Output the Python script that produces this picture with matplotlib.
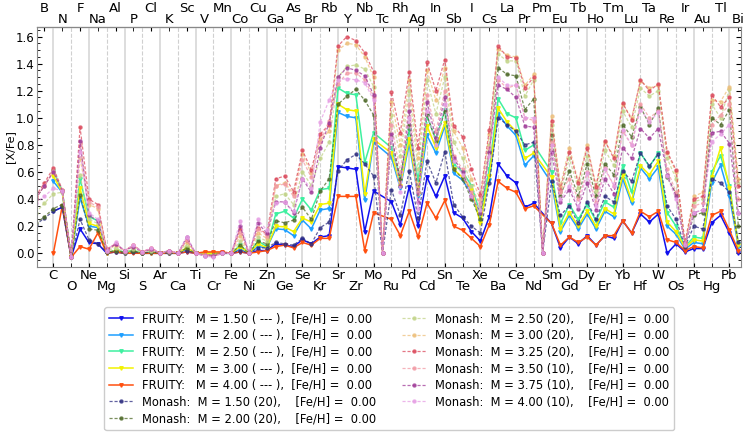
import numpy as np
import matplotlib.pyplot as plt
from matplotlib.ticker import MultipleLocator

nan = np.nan

# atomic numbers 4 (Be) .. 83 (Bi)
Z = np.arange(4, 84)
symbols = ['Be', 'B', 'C', 'N', 'O', 'F', 'Ne', 'Na', 'Mg', 'Al', 'Si', 'P', 'S', 'Cl', 'Ar',
           'K', 'Ca', 'Sc', 'Ti', 'V', 'Cr', 'Mn', 'Fe', 'Co', 'Ni', 'Cu', 'Zn', 'Ga', 'Ge',
           'As', 'Se', 'Br', 'Kr', 'Rb', 'Sr', 'Y', 'Zr', 'Nb', 'Mo', 'Tc', 'Ru', 'Rh', 'Pd',
           'Ag', 'Cd', 'In', 'Sn', 'Sb', 'Te', 'I', 'Xe', 'Cs', 'Ba', 'La', 'Ce', 'Pr', 'Nd',
           'Pm', 'Sm', 'Eu', 'Gd', 'Tb', 'Dy', 'Ho', 'Er', 'Tm', 'Yb', 'Lu', 'Hf', 'Ta', 'W',
           'Re', 'Os', 'Ir', 'Pt', 'Au', 'Hg', 'Tl', 'Pb', 'Bi']

# FRUITY models ([X/Fe]), Be..Bi
fruity_150 = [nan, nan, 0.31, 0.34, -0.03, 0.18, 0.08, 0.07, 0.0, 0.01, 0.0, 0.01, 0.0, 0.0, 0.0,
              0.0, 0.0, 0.01, 0.0, 0.0, 0.0, 0.0, 0.0, 0.01, 0.0, 0.02, 0.02, 0.07, 0.06,
              0.05, 0.10, 0.07, 0.12, 0.13, 0.64, 0.63, 0.62, 0.16, 0.46, nan, 0.38, 0.21, 0.49,
              0.20, 0.56, 0.42, 0.57, 0.30, 0.26, 0.16, 0.09, 0.27, 0.66, 0.57, 0.52, 0.34, 0.37,
              nan, 0.22, 0.04, 0.12, 0.07, 0.13, 0.06, 0.13, 0.11, 0.24, 0.15, 0.29, 0.23, 0.29,
              0.0, 0.07, 0.01, 0.035, 0.035, 0.225, 0.28, 0.15, 0.0]
fruity_200 = [nan, nan, 0.53, 0.45, -0.03, 0.41, 0.20, 0.19, 0.0, 0.02, 0.0, 0.01, 0.0, 0.0, 0.0,
              0.0, 0.0, 0.03, 0.0, 0.0, 0.0, 0.0, 0.0, 0.03, 0.0, 0.05, 0.04, 0.18, 0.175,
              0.13, 0.245, 0.18, 0.32, 0.33, 1.04, 1.01, 1.00, 0.39, 0.82, nan, 0.71, 0.48, 0.81,
              0.42, 0.87, 0.74, 0.94, 0.59, 0.54, 0.44, 0.24, 0.54, 1.03, 0.94, 0.87, 0.65, 0.72,
              nan, 0.52, 0.16, 0.28, 0.18, 0.29, 0.18, 0.31, 0.27, 0.55, 0.37, 0.63, 0.55, 0.635,
              0.20, 0.14, 0.03, 0.08, 0.07, 0.52, 0.65, 0.42, 0.05]
fruity_250 = [nan, nan, 0.61, 0.46, -0.03, 0.55, 0.27, 0.24, 0.0, 0.02, 0.01, 0.02, 0.0, 0.01, 0.0,
              0.01, 0.0, 0.04, 0.0, 0.0, 0.0, 0.0, 0.0, 0.06, 0.0, 0.09, 0.05, 0.29, 0.31,
              0.26, 0.40, 0.32, 0.47, 0.48, 1.22, 1.18, 1.17, 0.67, 0.89, nan, 0.78, 0.55, 0.91,
              0.54, 1.01, 0.84, 1.06, 0.66, 0.60, 0.50, 0.29, 0.62, 1.14, 1.03, 1.00, 0.76, 0.80,
              nan, 0.60, 0.22, 0.36, 0.25, 0.36, 0.24, 0.38, 0.34, 0.645, 0.45, 0.74, 0.64, 0.74,
              0.30, 0.20, 0.05, 0.12, 0.11, 0.60, 0.72, 0.50, 0.07]
fruity_300 = [nan, nan, 0.57, 0.45, -0.03, 0.48, 0.22, 0.20, 0.0, 0.02, 0.0, 0.01, 0.0, 0.0, 0.0,
              0.0, 0.0, 0.04, 0.0, 0.0, 0.0, 0.0, 0.0, 0.05, 0.0, 0.07, 0.04, 0.20, 0.195,
              0.16, 0.26, 0.23, 0.36, 0.37, 1.10, 1.06, 1.05, 0.44, 0.84, nan, 0.74, 0.50, 0.84,
              0.44, 0.94, 0.78, 0.96, 0.62, 0.56, 0.47, 0.22, 0.57, 1.07, 0.97, 0.90, 0.70, 0.74,
              nan, 0.56, 0.18, 0.30, 0.20, 0.31, 0.20, 0.33, 0.29, 0.58, 0.39, 0.645, 0.58, 0.68,
              0.23, 0.16, 0.04, 0.10, 0.09, 0.56, 0.78, 0.48, 0.06]
fruity_400 = [nan, nan, 0.0, 0.35, -0.03, 0.05, 0.03, 0.15, 0.0, 0.01, 0.0, 0.0, 0.0, 0.0, 0.0,
              0.0, 0.0, 0.01, 0.0, 0.01, 0.01, 0.01, 0.0, 0.01, 0.0, 0.01, 0.02, 0.05, 0.06,
              0.04, 0.08, 0.06, 0.11, 0.11, 0.42, 0.42, 0.42, 0.02, 0.30, nan, 0.25, 0.13, 0.31,
              0.12, 0.37, 0.26, 0.39, 0.20, 0.17, 0.11, 0.05, 0.21, 0.53, 0.48, 0.45, 0.33, 0.35,
              nan, 0.22, 0.06, 0.12, 0.08, 0.12, 0.06, 0.13, 0.13, 0.24, 0.15, 0.31, 0.27, 0.31,
              0.10, 0.08, 0.02, 0.05, 0.04, 0.28, 0.31, 0.17, 0.02]

# Monash models ([X/Fe]), Be..Bi
monash_150 = [0.21, 0.26, 0.31, 0.34, -0.03, 0.25, 0.10, 0.07, 0.01, 0.01, 0.0, 0.01, 0.0, 0.01, 0.0,
              0.0, 0.0, 0.02, 0.0, -0.01, -0.01, 0.0, 0.0, 0.02, 0.0, 0.04, 0.04, 0.08, 0.07,
              0.06, 0.11, 0.07, 0.19, 0.23, 0.61, 0.69, 0.73, 0.66, 0.57, 0.0, 0.47, 0.28, 0.61,
              0.26, 0.68, 0.52, 0.75, 0.36, 0.27, 0.20, 0.15, 0.52, 1.00, 0.95, 0.90, 0.80, 0.82,
              0.0, 0.53, 0.28, 0.35, 0.22, 0.38, 0.25, 0.42, 0.38, 0.61, 0.53, 0.74, 0.645, 0.73,
              0.35, 0.25, 0.05, 0.20, 0.18, 0.55, 0.52, 0.45, 0.08]
monash_200 = [0.22, 0.27, 0.33, 0.36, -0.03, 0.43, 0.18, 0.17, 0.01, 0.02, 0.01, 0.02, 0.0, 0.01, 0.0,
              0.01, 0.0, 0.04, 0.0, -0.01, -0.01, 0.0, 0.0, 0.06, 0.0, 0.09, 0.07, 0.24, 0.225,
              0.245, 0.34, 0.25, 0.46, 0.55, 1.10, 1.16, 1.21, 1.13, 1.02, 0.0, 0.86, 0.55, 0.95,
              0.45, 1.02, 0.83, 1.05, 0.62, 0.55, 0.40, 0.25, 0.75, 1.37, 1.32, 1.31, 1.06, 1.14,
              0.0, 0.87, 0.42, 0.61, 0.42, 0.66, 0.42, 0.66, 0.58, 0.95, 0.86, 1.08, 0.95, 1.07,
              0.56, 0.44, 0.06, 0.28, 0.30, 1.00, 0.95, 1.06, 0.20]
monash_250 = [0.30, 0.37, 0.44, 0.45, -0.03, 0.58, 0.25, 0.22, 0.02, 0.04, 0.01, 0.03, 0.01, 0.02, 0.0,
              0.01, 0.0, 0.06, 0.0, -0.01, -0.01, 0.0, 0.0, 0.09, 0.0, 0.12, 0.09, 0.42, 0.44,
              0.36, 0.60, 0.50, 0.70, 0.82, 1.30, 1.38, 1.39, 1.36, 1.23, 0.0, 1.02, 0.72, 1.20,
              0.62, 1.28, 1.03, 1.30, 0.82, 0.70, 0.50, 0.35, 0.80, 1.47, 1.42, 1.42, 1.16, 1.28,
              0.0, 0.95, 0.45, 0.70, 0.48, 0.72, 0.46, 0.76, 0.65, 1.05, 0.93, 1.22, 1.16, 1.20,
              0.70, 0.55, 0.07, 0.38, 0.40, 1.10, 1.00, 1.21, 0.52]
monash_300 = [0.40, 0.50, 0.60, 0.46, -0.03, 0.70, 0.36, 0.33, 0.02, 0.06, 0.02, 0.05, 0.01, 0.03, 0.0,
              0.02, 0.0, 0.08, 0.0, -0.01, -0.02, 0.0, 0.0, 0.13, 0.0, 0.15, 0.11, 0.50, 0.52,
              0.44, 0.73, 0.59, 0.84, 0.90, 1.50, 1.55, 1.54, 1.45, 1.30, 0.0, 1.12, 0.80, 1.28,
              0.70, 1.35, 1.13, 1.37, 0.90, 0.78, 0.55, 0.40, 0.88, 1.51, 1.46, 1.45, 1.24, 1.32,
              0.0, 1.01, 0.50, 0.78, 0.53, 0.80, 0.50, 0.82, 0.72, 1.10, 1.00, 1.27, 1.22, 1.24,
              0.74, 0.60, 0.08, 0.42, 0.45, 1.13, 1.12, 1.23, 0.55]
monash_325 = [0.42, 0.52, 0.63, 0.47, -0.03, 0.93, 0.40, 0.36, 0.03, 0.07, 0.02, 0.06, 0.01, 0.04, 0.0,
              0.02, 0.0, 0.10, 0.0, -0.01, -0.02, 0.01, 0.0, 0.18, 0.0, 0.19, 0.14, 0.55, 0.57,
              0.455, 0.76, 0.615, 0.88, 0.95, 1.53, 1.60, 1.57, 1.48, 1.34, 0.0, 1.19, 0.89, 1.34,
              0.78, 1.41, 1.20, 1.43, 0.94, 0.86, 0.62, 0.43, 0.91, 1.53, 1.45, 1.44, 1.22, 1.30,
              0.0, 0.98, 0.47, 0.75, 0.52, 0.78, 0.49, 0.83, 0.70, 1.11, 0.985, 1.28, 1.20, 1.25,
              0.75, 0.615, 0.08, 0.40, 0.42, 1.17, 1.08, 1.15, 0.50]
monash_350 = [0.41, 0.50, 0.61, 0.47, -0.03, 0.80, 0.38, 0.34, 0.03, 0.07, 0.02, 0.06, 0.01, 0.03, 0.0,
              0.02, 0.0, 0.10, 0.0, -0.01, -0.02, 0.0, 0.0, 0.16, 0.0, 0.18, 0.13, 0.50, 0.51,
              0.42, 0.69, 0.56, 0.82, 0.98, 1.25, 1.33, 1.33, 1.28, 1.15, 0.0, 0.95, 0.60, 1.10,
              0.45, 1.17, 0.90, 1.20, 0.72, 0.62, 0.45, 0.37, 0.78, 1.28, 1.22, 1.24, 1.00, 0.98,
              0.0, 0.82, 0.45, 0.55, 0.40, 0.60, 0.38, 0.63, 0.50, 0.90, 0.80, 1.10, 1.00, 1.05,
              0.62, 0.45, 0.07, 0.35, 0.37, 0.95, 1.02, 1.10, 0.40]
monash_375 = [0.40, 0.50, 0.60, 0.46, -0.03, 0.83, 0.28, 0.24, 0.02, 0.07, 0.02, 0.05, 0.01, 0.03, 0.0,
              0.02, 0.0, 0.12, 0.0, -0.02, -0.02, 0.0, 0.0, 0.20, 0.0, 0.22, 0.15, 0.38, 0.38,
              0.30, 0.55, 0.45, 0.78, 0.96, 1.30, 1.37, 1.35, 1.31, 1.17, 0.0, 0.88, 0.50, 1.05,
              0.38, 1.12, 0.85, 1.15, 0.70, 0.60, 0.42, 0.30, 0.75, 1.24, 1.21, 1.15, 0.94, 0.93,
              0.0, 0.75, 0.38, 0.47, 0.33, 0.52, 0.32, 0.55, 0.44, 0.78, 0.70, 0.92, 0.85, 0.92,
              0.58, 0.42, 0.06, 0.30, 0.32, 0.89, 0.90, 0.81, 0.30]
monash_400 = [0.37, 0.42, 0.48, 0.46, -0.03, 0.75, 0.30, 0.25, 0.02, 0.08, 0.02, 0.06, 0.01, 0.04, 0.0,
              0.02, 0.0, 0.12, 0.0, -0.02, -0.03, 0.0, 0.0, 0.24, 0.0, 0.25, 0.17, 0.37, 0.38,
              0.31, 0.55, 0.48, 0.97, 1.13, 1.28, 1.29, 1.28, 1.26, 1.13, 0.0, 0.85, 0.45, 1.00,
              0.33, 1.05, 0.80, 1.10, 0.68, 0.58, 0.42, 0.32, 0.72, 1.30, 1.24, 1.24, 1.00, 1.00,
              0.0, 0.80, 0.40, 0.50, 0.35, 0.59, 0.35, 0.62, 0.50, 0.91, 0.80, 1.06, 0.97, 1.04,
              0.57, 0.40, 0.06, 0.30, 0.32, 0.82, 0.88, 0.95, 0.30]

fruity = [
    (fruity_150, '1.50', '#1010ee'),
    (fruity_200, '2.00', '#1e9fff'),
    (fruity_250, '2.50', '#3ef0a0'),
    (fruity_300, '3.00', '#f2f200'),
    (fruity_400, '4.00', '#ff5010'),
]
monash = [
    (monash_150, '1.50', '20', '#2e2e80'),
    (monash_200, '2.00', '20', '#4f6a2a'),
    (monash_250, '2.50', '20', '#c2d488'),
    (monash_300, '3.00', '20', '#edbf7a'),
    (monash_325, '3.25', '20', '#dc4a5c'),
    (monash_350, '3.50', '10', '#f29aa4'),
    (monash_375, '3.75', '10', '#a03c98'),
    (monash_400, '4.00', '10', '#e69ee4'),
]

fig, ax = plt.subplots(figsize=(7.47, 4.36), dpi=100)
fig.subplots_adjust(left=0.05, right=0.992, top=0.938, bottom=0.388)

for vals, m, col in fruity:
    y = np.array(vals, dtype=float)
    ok = ~np.isnan(y)
    ax.plot(Z[ok], y[ok], '-', color=col, lw=1.1, marker='v', ms=2.5,
            label='FRUITY:   M = %s ( --- ),  [Fe/H] =  0.00' % m)

for vals, m, n, col in monash:
    y = np.array(vals, dtype=float)
    ax.plot(Z, y, '--', dashes=(2.5, 1.5), color=col, lw=0.9, marker='o', ms=2.2, alpha=0.75,
            label='Monash:  M = %s (%s),    [Fe/H] =  0.00' % (m, n))

ax.set_xlim(4.2, 83.3)
ax.set_ylim(-0.1, 1.67)
ax.set_ylabel('[X/Fe]', fontsize=8)
ax.yaxis.set_label_coords(-0.031, 0.5)

sym = dict(zip(Z, symbols))
bot_major = list(range(6, 84, 4))
bot_minor = list(range(8, 84, 4))
top_major = list(range(5, 84, 4))
top_minor = list(range(7, 84, 4))

ax.set_xticks(bot_major, [sym[z] for z in bot_major])
ax.set_xticks(bot_minor, [sym[z] for z in bot_minor], minor=True)
ax.tick_params(axis='x', which='major', pad=1.5, labelsize=9.5, direction='in', length=3)
ax.tick_params(axis='x', which='minor', pad=9.5, labelsize=9.5, direction='in', length=3)
ax.grid(axis='x', which='major', color='#dddddd', lw=1.4)
ax.grid(axis='x', which='minor', color='#d0d0d0', lw=0.8, ls='--')

top = ax.secondary_xaxis('top')
top.set_xticks(top_major, [sym[z] for z in top_major])
top.set_xticks(top_minor, [sym[z] for z in top_minor], minor=True)
top.tick_params(axis='x', which='major', pad=8.5, labelsize=9.5, direction='in', length=3)
top.tick_params(axis='x', which='minor', pad=0.5, labelsize=9.5, direction='in', length=3)

ax.yaxis.set_major_locator(MultipleLocator(0.2))
ax.yaxis.set_minor_locator(MultipleLocator(0.05))
ax.tick_params(axis='y', which='both', direction='in', right=True, labelsize=8.5, pad=2)
ax.tick_params(axis='y', which='minor', length=2)

for s in ax.spines.values():
    s.set_color('#888888')

ax.legend(loc='upper center', bbox_to_anchor=(0.5, -0.155), ncol=2, fontsize=8.3,
          handlelength=2.1, handletextpad=0.8, labelspacing=0.32, columnspacing=2.2,
          borderaxespad=0.3, framealpha=1, edgecolor='#cccccc')

fig.savefig('out.png', dpi=100)
